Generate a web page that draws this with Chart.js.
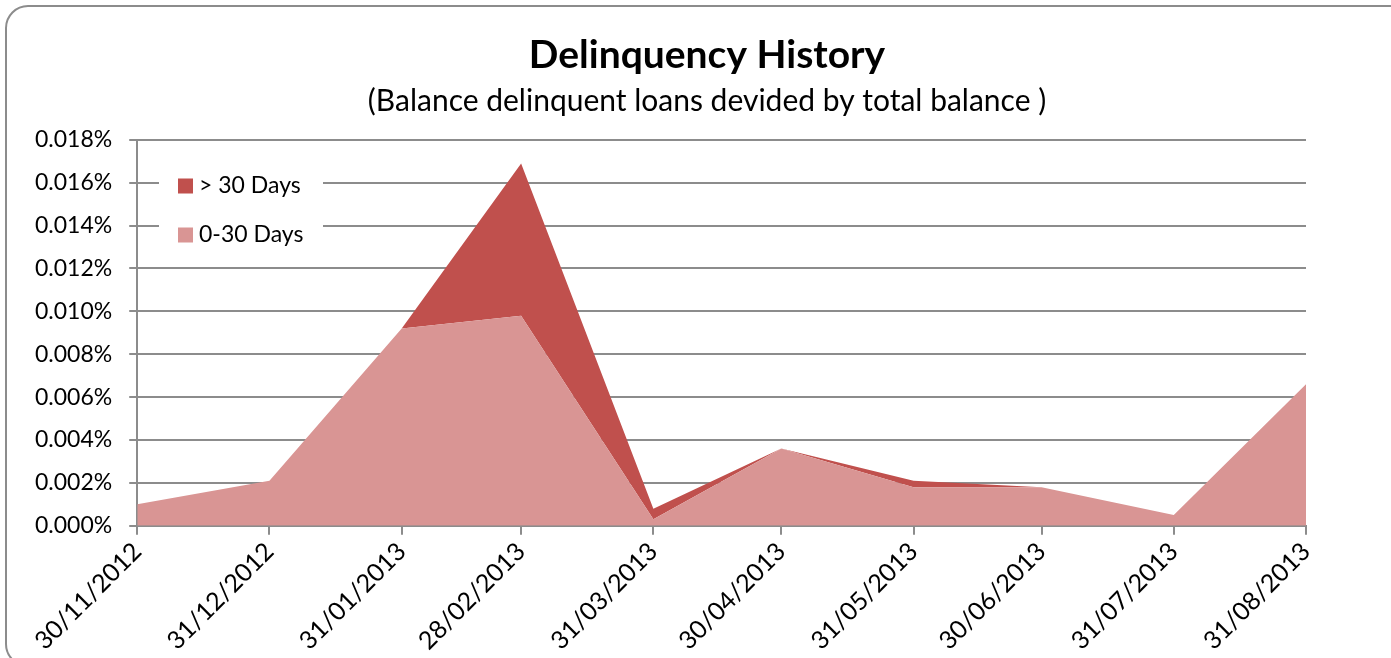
<!DOCTYPE html>
<html>
<head>
<meta charset="utf-8">
<title>Delinquency History</title>
<script src="https://cdn.jsdelivr.net/npm/chart.js@4/dist/chart.umd.min.js"></script>
<style>
	html, body { margin: 0; padding: 0; background: #ffffff; }
	#wrap { width: 1391px; height: 658px; position: relative; }
</style>
</head>
<body>
<div id="wrap"><canvas id="delqChart" width="1391" height="658"></canvas></div>
<script>
// month-end reporting dates
const dateLabels = ["30/11/2012", "31/12/2012", "31/01/2013", "28/02/2013", "31/03/2013",
	"30/04/2013", "31/05/2013", "30/06/2013", "31/07/2013", "31/08/2013"];

// values in percent (0.0098 = 0.0098%)
const days0to30 = [0.0010, 0.0021, 0.0092, 0.0098, 0.0003, 0.0036, 0.0018, 0.0018, 0.0005, 0.0066];
const daysOver30 = [0.0000, 0.0000, 0.0000, 0.0071, 0.0005, 0.0000, 0.0003, 0.0000, 0.0000, 0.0000];

const yTicks = [0, 0.002, 0.004, 0.006, 0.008, 0.010, 0.012, 0.014, 0.016, 0.018];

const FONT = "Lato, 'Open Sans', sans-serif";

document.addEventListener("DOMContentLoaded", () => {

	// day number from dd/mm/yyyy, counted from the first date
	function toDay(s) {
		const p = s.split("/");
		return Date.UTC(+p[2], +p[1] - 1, +p[0]) / 86400000;
	}
	const day0 = toDay(dateLabels[0]);
	const xs = dateLabels.map(d => toDay(d) - day0);

	const frame = {
		id: "frame",
		beforeDraw(chart) {
			const c = chart.ctx;
			c.save();
			c.fillStyle = "#ffffff";
			c.fillRect(0, 0, chart.width, chart.height);
			c.strokeStyle = "#8c8c8c";
			c.lineWidth = 2;
			c.beginPath();
			c.roundRect(6, 6, 1420, 660, 22);
			c.stroke();
			c.restore();
		}
	};

	// titles sit a bit right of the plot centre in the original
	const shiftTitles = {
		id: "shiftTitles",
		afterLayout(chart) {
			chart.boxes.forEach(b => {
				if (b.options && b.options.text !== undefined && b.position === "top") {
					b.left += 45;
					b.right += 45;
				}
			});
		}
	};

	const insideLegend = {
		id: "insideLegend",
		afterDatasetsDraw(chart) {
			const c = chart.ctx;
			const items = [
				{ text: "> 30 Days", color: "#C0504D" },
				{ text: "0-30 Days", color: "#D99594" }
			];
			c.save();
			c.fillStyle = "#ffffff";
			c.fillRect(159, 165, 164, 92);
			c.font = "23px " + FONT;
			c.textBaseline = "middle";
			items.forEach((it, i) => {
				const y = 186 + i * 49;
				c.fillStyle = it.color;
				c.fillRect(178, y - 7.5, 15, 15);
				c.fillStyle = "#000000";
				c.fillText(it.text, 199, y);
			});
			c.restore();
		}
	};

	window.delqChart = new Chart(document.getElementById("delqChart"), {

		type: "line",

		data: {
			datasets: [{
				label: "0-30 Days",
				data: xs.map((x, i) => ({ x: x, y: days0to30[i] })),
				backgroundColor: "#D99594",
				borderWidth: 0,
				pointRadius: 0,
				fill: "origin",
				tension: 0
			}, {
				label: "> 30 Days",
				data: xs.map((x, i) => ({ x: x, y: daysOver30[i] })),
				backgroundColor: "#C0504D",
				borderWidth: 0,
				pointRadius: 0,
				fill: "-1",
				tension: 0
			}]
		},

		options: {
			responsive: false,
			animation: false,
			layout: {
				padding: { left: 18, right: 85, top: 0, bottom: 0 }
			},
			plugins: {
				legend: { display: false },
				tooltip: { enabled: false },
				title: {
					display: true,
					text: "Delinquency History",
					color: "#000000",
					font: { family: FONT, size: 39, weight: "bold" },
					padding: { top: 32, bottom: 5 }
				},
				subtitle: {
					display: true,
					text: "(Balance delinquent loans devided by total balance )",
					color: "#000000",
					font: { family: FONT, size: 30 },
					padding: { top: 0, bottom: 20 }
				}
			},
			scales: {
				x: {
					type: "linear",
					min: xs[0],
					max: xs[xs.length - 1],
					afterBuildTicks: axis => {
						axis.ticks = xs.map(v => ({ value: v }));
					},
					ticks: {
						callback: v => dateLabels[xs.indexOf(v)],
						minRotation: 45,
						maxRotation: 45,
						autoSkip: false,
						color: "#000000",
						font: { family: FONT, size: 25 },
						padding: 2
					},
					grid: {
						drawOnChartArea: false,
						color: "#8c8c8c",
						lineWidth: 2,
						tickLength: 9
					},
					border: { color: "#8c8c8c", width: 2 }
				},
				y: {
					stacked: true,
					min: 0,
					max: 0.018,
					afterBuildTicks: axis => {
						axis.ticks = yTicks.map(v => ({ value: v }));
					},
					ticks: {
						callback: v => v.toFixed(3) + "%",
						color: "#000000",
						font: { family: FONT, size: 23 },
						padding: 17
					},
					grid: {
						color: "#8c8c8c",
						lineWidth: 2,
						tickLength: 8
					},
					border: { color: "#8c8c8c", width: 2 }
				}
			}
		},

		plugins: [frame, shiftTitles, insideLegend]
	});
});
</script>
</body>
</html>
